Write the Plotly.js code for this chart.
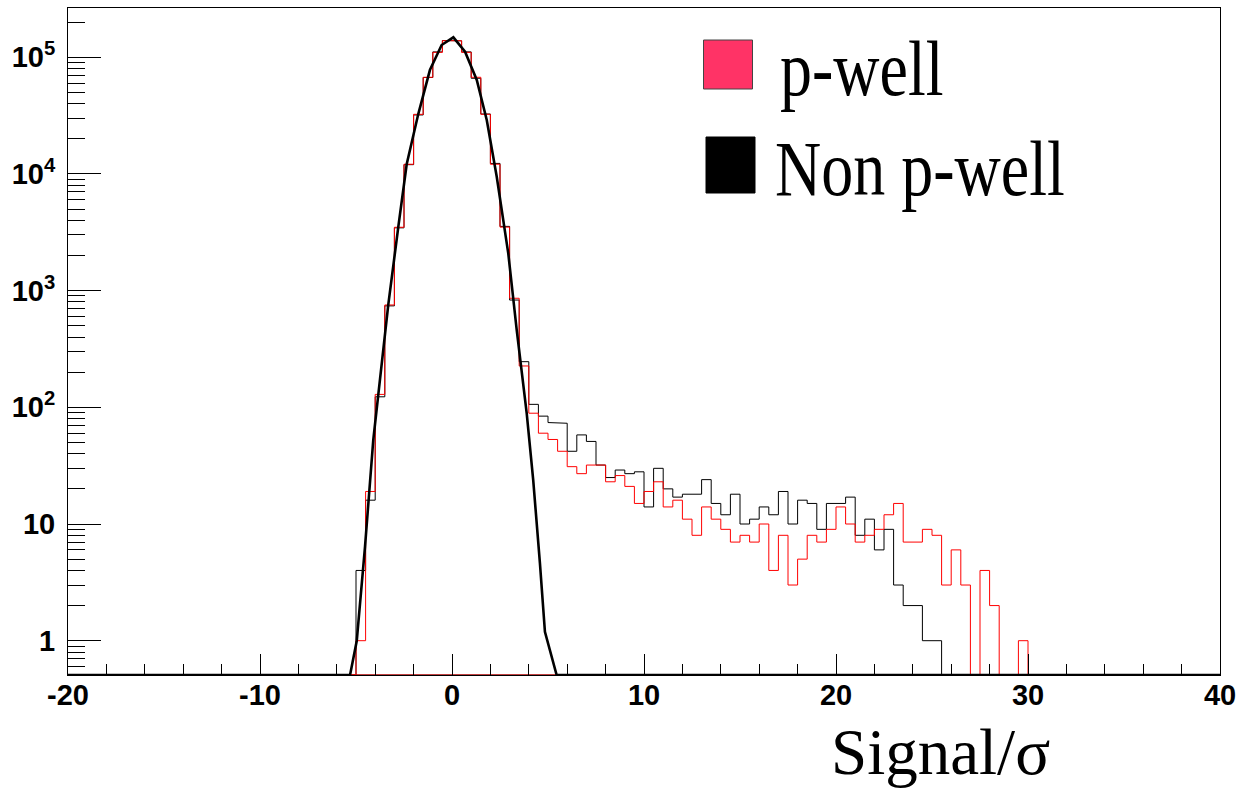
<!DOCTYPE html>
<html>
<head>
<meta charset="utf-8">
<script src="https://cdn.plot.ly/plotly-3.0.1.min.js"></script>
<style>
  html, body { margin: 0; padding: 0; background: #fff; }
  #chart { width: 1250px; height: 790px; }
</style>
</head>
<body>
<div id="chart"></div>
<script>
// ---------------- DATA ----------------
// Low edges of the 0.5-wide bins that hold entries (all other bins of -20..40 are empty)
const binLow = [
  -5, -4.5, -4, -3.5, -3, -2.5, -2, -1.5, -1, -0.5,
  0, 0.5, 1, 1.5, 2, 2.5, 3, 3.5, 4, 4.5,
  5, 5.5, 6, 6.5, 7, 7.5, 8, 8.5, 9, 9.5,
  10, 10.5, 11, 11.5, 12, 12.5, 13, 13.5, 14, 14.5,
  15, 15.5, 16, 16.5, 17, 17.5, 18, 18.5, 19, 19.5,
  20, 20.5, 21, 21.5, 22, 22.5, 23, 23.5, 24, 24.5,
  25, 25.5, 26, 26.5, 27, 27.5, 28, 28.5, 29, 29.5
];
const binWidth = 0.5;

// p-well (red)
const pWellCounts = [
  1, 19, 129, 753, 3490, 12100, 32400, 67300, 110000, 138500,
  138500, 110000, 67300, 32400, 12100, 3500, 860, 226, 89, 60,
  53, 42, 31, 27, 32, 32, 23, 26, 21, 15,
  19, 23, 14, 16, 11, 8, 14, 11, 9, 7,
  8, 7, 10, 4, 8, 3, 5, 8, 7, 9,
  14, 10, 7, 8, 9, 12, 15, 7, 7, 9,
  8, 3, 6, 3, 0, 4, 2, 0, 0, 1
];

// Non p-well (black)
const nonPWellCounts = [
  4, 16, 123, 740, 3450, 12000, 32000, 67000, 111000, 139000,
  138000, 111000, 66000, 32600, 12300, 3550, 830, 246, 106, 84,
  74, 73, 42, 58, 51, 32, 25, 29, 27, 28,
  14, 30, 20, 17, 18, 18, 24, 15, 12, 18,
  10, 11, 14, 12, 19, 10, 16, 15, 9, 15,
  15, 17, 8, 11, 6, 9, 3, 2, 2, 1,
  1, 0, 0, 0, 0, 0, 0, 0, 0, 0
];

// Fitted curve as drawn (values at or below 0.5 sit on the bottom of the frame)
const fitX = [-20, -5.31, -4.96, -4.53, -4.10, -3.75, -3.32, -2.80, -2.36, -1.76,
              -1.15, -0.54, 0.07, 0.68, 1.29, 1.81, 2.33, 2.93, 3.37, 3.89,
              4.23, 4.58, 4.84, 5.45, 40];
const fitY = [0.5, 0.5, 1.0, 6.4, 52.6, 172, 753, 3486, 12085, 32400,
              77600, 127200, 148000, 111500, 63800, 28970, 9460, 2087, 460, 89,
              23.8, 4.6, 1.19, 0.5, 0.5];

const xTickVals = [-20, -10, 0, 10, 20, 30, 40];
const xTickText = ['-20', '-10', '0', '10', '20', '30', '40'];
const yTickVals = [1, 10, 100, 1000, 10000, 100000];
const yTickText = ['1', '10', '10<sup>2</sup>', '10<sup>3</sup>', '10<sup>4</sup>', '10<sup>5</sup>'];

const seriesNames = ['p-well', 'Non p-well'];
const xTitle = 'Signal/σ';

// ---------------- LAYOUT CONSTANTS ----------------
const W = 1250, H = 790;
const M = { l: 68, r: 30, t: 8, b: 115 };
const plotW = W - M.l - M.r, plotH = H - M.t - M.b;
const X_RANGE = [-20, 40];
const Y_RANGE = [-0.2939, 5.4216];
const yFloor = Math.pow(10, Y_RANGE[0]);

const px2paperX = px => (px - M.l) / plotW;
const px2paperY = py => (H - M.b - py) / plotH;

// Build ROOT-like histogram outline (closed along the frame bottom)
function histOutline(lows, counts) {
  const xs = [X_RANGE[0]], ys = [yFloor];
  xs.push(lows[0]); ys.push(yFloor);
  for (let i = 0; i < lows.length; i++) {
    const v = counts[i] > 0 ? counts[i] : yFloor;
    xs.push(lows[i]); ys.push(v);
    xs.push(lows[i] + binWidth); ys.push(v);
  }
  xs.push(lows[lows.length - 1] + binWidth); ys.push(yFloor);
  xs.push(X_RANGE[1]); ys.push(yFloor);
  xs.push(X_RANGE[0]); ys.push(yFloor);
  return { xs, ys };
}

const hb = histOutline(binLow, nonPWellCounts);
const hr = histOutline(binLow, pWellCounts);

const traces = [
  { type: 'scatter', mode: 'lines', x: hb.xs, y: hb.ys, name: seriesNames[1],
    line: { color: '#000000', width: 1 }, showlegend: false, hoverinfo: 'skip' },
  { type: 'scatter', mode: 'lines', x: hr.xs, y: hr.ys, name: seriesNames[0],
    line: { color: '#ff0000', width: 1 }, showlegend: false, hoverinfo: 'skip' },
  { type: 'scatter', mode: 'lines', x: fitX, y: fitY.map(v => Math.max(v, yFloor)), name: 'fit',
    line: { color: '#000000', width: 2.6 }, showlegend: false, hoverinfo: 'skip' }
];

// minor ticks
const xMinor = [];
for (let v = -18; v < 40; v += 2) if (v % 10 !== 0) xMinor.push(v);
const yMinor = [];
for (let d = -1; d <= 5; d++) for (let m = 2; m <= 9; m++) yMinor.push(m * Math.pow(10, d));

const layout = {
  width: W, height: H,
  margin: M,
  paper_bgcolor: '#ffffff', plot_bgcolor: '#ffffff',
  showlegend: false,
  hovermode: false,
  xaxis: {
    range: X_RANGE, showgrid: false, zeroline: false,
    showline: true, mirror: true, linecolor: '#000', linewidth: 1,
    ticks: 'inside', ticklen: 21, tickwidth: 1, tickcolor: '#000',
    tickmode: 'array', tickvals: xTickVals, ticktext: xTickText,
    tickfont: { family: 'Liberation Sans, Arial, sans-serif', size: 29, color: '#000', weight: 'bold' },
    ticklabelstandoff: -6,
    minor: { tickmode: 'array', tickvals: xMinor, ticks: 'inside', ticklen: 11, tickwidth: 1, tickcolor: '#000', showgrid: false }
  },
  yaxis: {
    type: 'log', range: Y_RANGE, showgrid: false, zeroline: false,
    showline: true, mirror: true, linecolor: '#000', linewidth: 1,
    ticks: 'inside', ticklen: 33, tickwidth: 1, tickcolor: '#000',
    tickmode: 'array', tickvals: yTickVals, ticktext: yTickText,
    tickfont: { family: 'Liberation Sans, Arial, sans-serif', size: 29, color: '#000', weight: 'bold' },
    ticklabelstandoff: 6,
    minor: { tickmode: 'array', tickvals: yMinor, ticks: 'inside', ticklen: 17, tickwidth: 1, tickcolor: '#000', showgrid: false }
  },
  shapes: [
    { type: 'rect', xref: 'paper', yref: 'paper',
      x0: px2paperX(703.5), x1: px2paperX(752.5), y0: px2paperY(89), y1: px2paperY(40),
      fillcolor: '#ff3366', line: { color: '#444444', width: 1 } },
    { type: 'rect', xref: 'paper', yref: 'paper',
      x0: px2paperX(706), x1: px2paperX(755), y0: px2paperY(193), y1: px2paperY(137),
      fillcolor: '#000000', line: { color: '#000000', width: 1 } }
  ],
  annotations: [
    { text: seriesNames[0], xref: 'paper', yref: 'paper', x: px2paperX(778), y: px2paperY(68),
      xanchor: 'left', yanchor: 'middle', showarrow: false,
      font: { family: 'Liberation Serif, Times New Roman, serif', size: 64, color: '#000' } },
    { text: seriesNames[1], xref: 'paper', yref: 'paper', x: px2paperX(773), y: px2paperY(168),
      xanchor: 'left', yanchor: 'middle', showarrow: false,
      font: { family: 'Liberation Serif, Times New Roman, serif', size: 64, color: '#000' } },
    { text: xTitle, xref: 'paper', yref: 'paper', x: px2paperX(1052), y: px2paperY(752),
      xanchor: 'right', yanchor: 'middle', showarrow: false,
      font: { family: 'Liberation Serif, Times New Roman, serif', size: 65, color: '#000' } }
  ]
};

Plotly.newPlot('chart', traces, layout, { displayModeBar: false, staticPlot: true }).then(gd => {
  // legend text in the original is vertically stretched
  gd.querySelectorAll('.annotation').forEach(a => {
    const t = a.querySelector('text.annotation-text');
    if (!t) return;
    if (t.textContent === seriesNames[0] || t.textContent === seriesNames[1]) {
      const bb = t.getBBox();
      const cy = bb.y + bb.height / 2;
      t.setAttribute('transform', 'translate(0 ' + cy + ') scale(1 1.22) translate(0 ' + (-cy) + ')');
    }
  });
});
</script>
</body>
</html>
